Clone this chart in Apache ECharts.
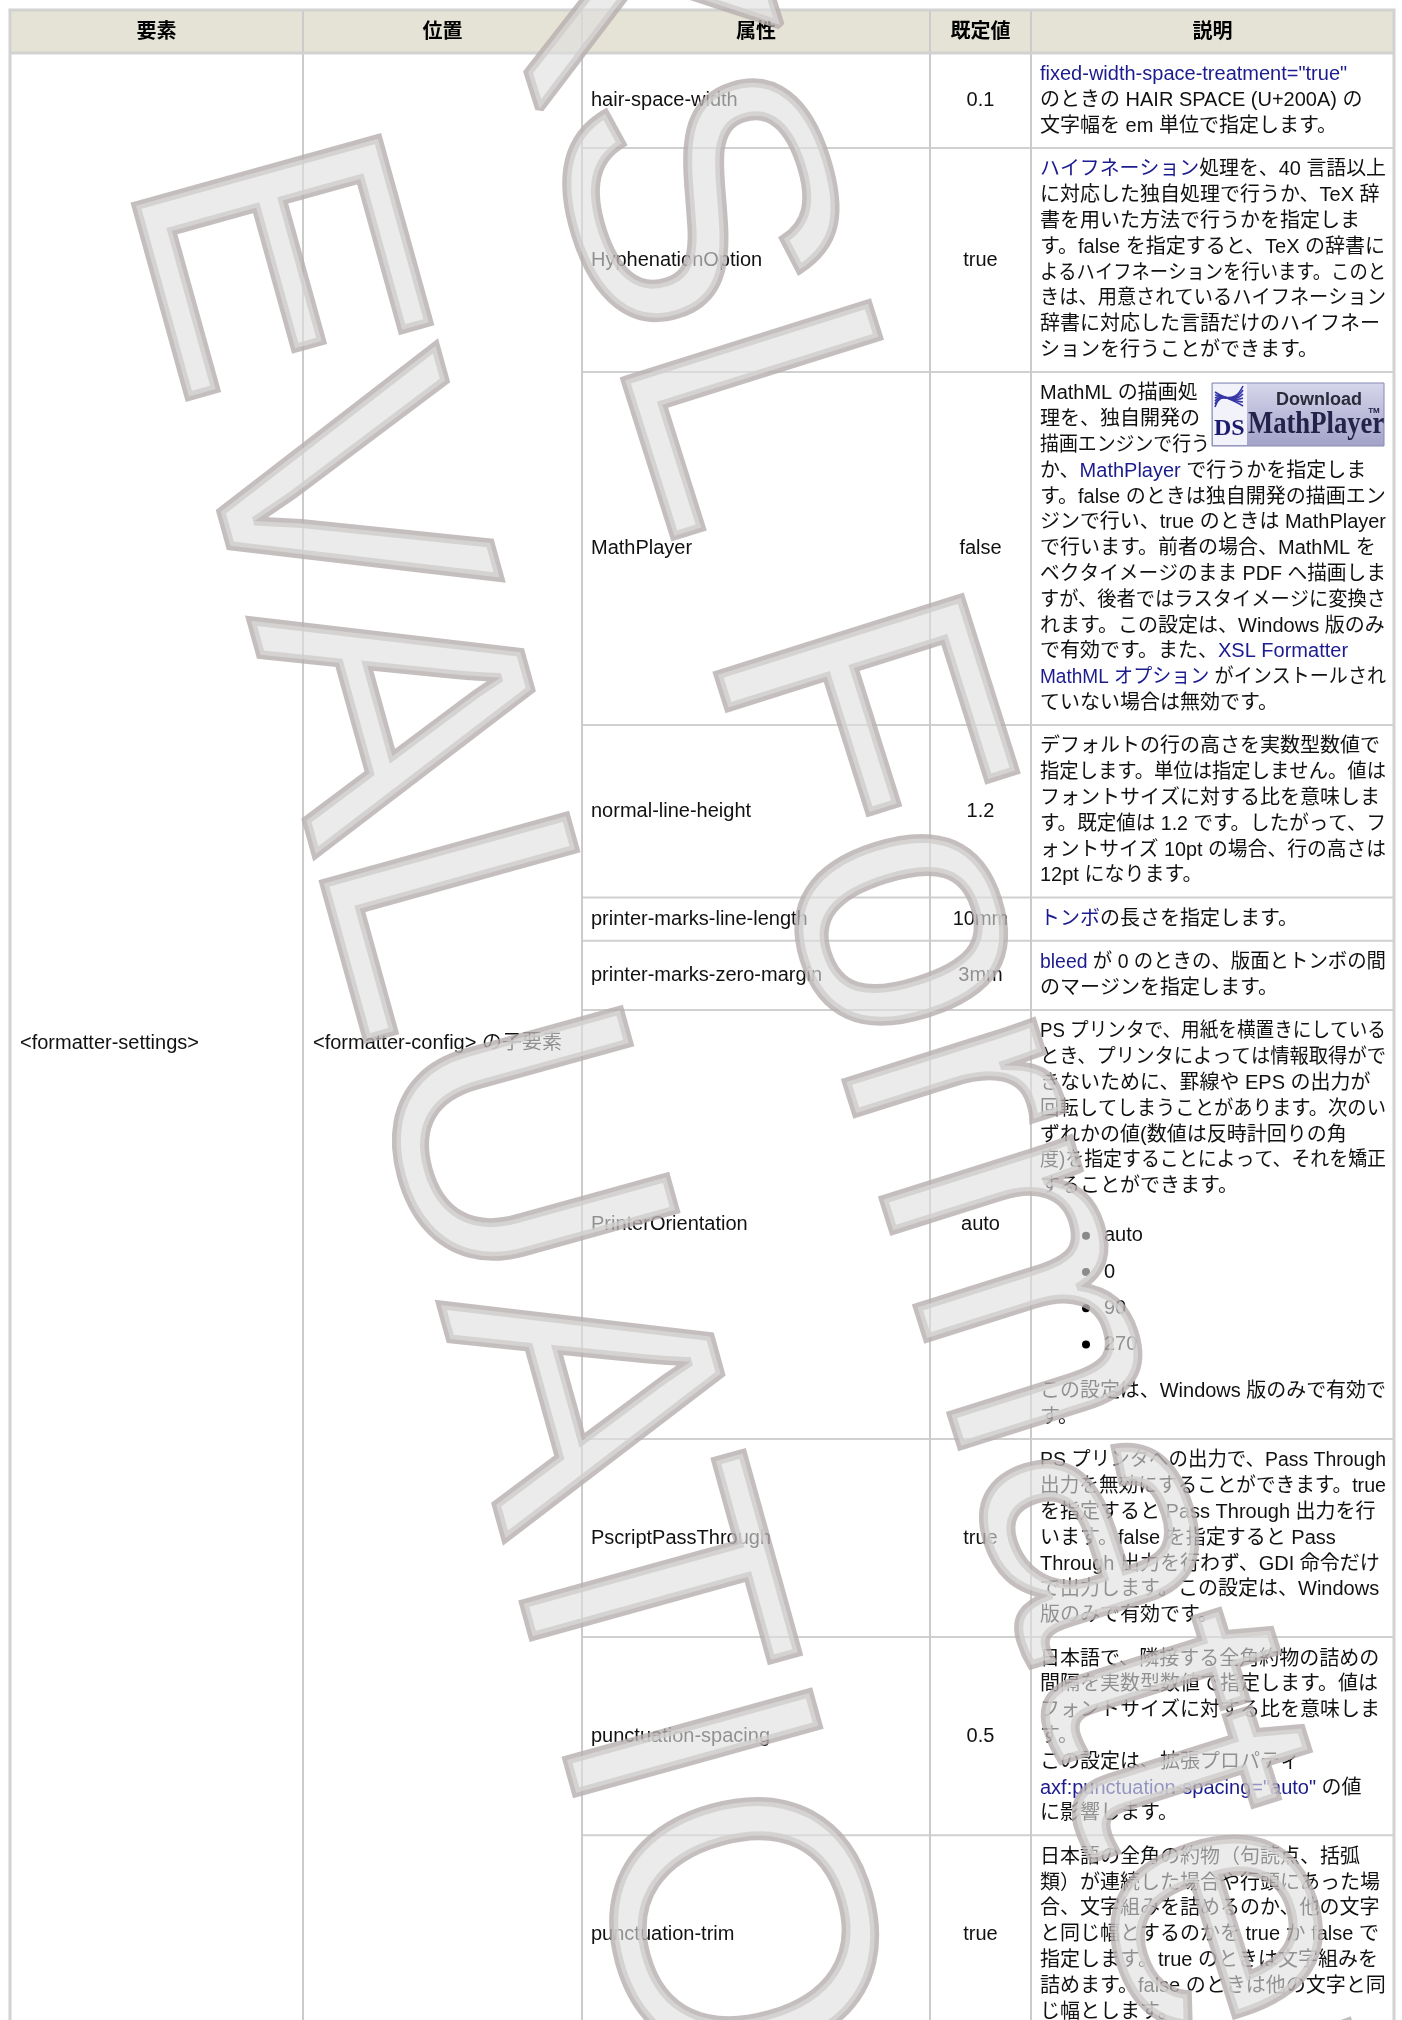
<!DOCTYPE html>
<html><head><meta charset="utf-8">
<script src="https://cdn.jsdelivr.net/npm/echarts@6/dist/echarts.min.js"></script>
<style>html,body{margin:0;padding:0;background:#fff}#c{width:1402px;height:2020px}</style>
</head><body><div id="c"></div>
<script>
// ---------------- data ----------------
const headers = ['要素', '位置', '属性', '既定値', '説明'];
const elementName = '<formatter-settings>';
const elementPlace = '<formatter-config> の子要素';
const attributes = ['hair-space-width', 'HyphenationOption', 'MathPlayer', 'normal-line-height',
  'printer-marks-line-length', 'printer-marks-zero-margin', 'PrinterOrientation',
  'PscriptPassThrough', 'punctuation-spacing', 'punctuation-trim'];
const defaults = ['0.1', 'true', 'false', '1.2', '10mm', '3mm', 'auto', 'true', '0.5', 'true'];
// [..] marks a link; "* " marks a bullet item
const desc0 = ['[fixed-width-space-treatment="true"]', 'のときの HAIR SPACE (U+200A) の', '文字幅を em 単位で指定します。'];
const desc1 = ['[ハイフネーション]処理を、40 言語以上', 'に対応した独自処理で行うか、TeX 辞', '書を用いた方法で行うかを指定しま',
  'す。false を指定すると、TeX の辞書に', 'よるハイフネーションを行います。このと', 'きは、用意されているハイフネーション',
  '辞書に対応した言語だけのハイフネー', 'ションを行うことができます。'];
const desc2 = ['MathML の描画処', '理を、独自開発の', '描画エンジンで行う', 'か、[MathPlayer] で行うかを指定しま',
  'す。false のときは独自開発の描画エン', 'ジンで行い、true のときは MathPlayer', 'で行います。前者の場合、MathML を',
  'ベクタイメージのまま PDF へ描画しま', 'すが、後者ではラスタイメージに変換さ', 'れます。この設定は、Windows 版のみ',
  'で有効です。また、[XSL Formatter]', '[MathML オプション] がインストールされ', 'ていない場合は無効です。'];
const desc3 = ['デフォルトの行の高さを実数型数値で', '指定します。単位は指定しません。値は', 'フォントサイズに対する比を意味しま',
  'す。既定値は 1.2 です。したがって、フ', 'ォントサイズ 10pt の場合、行の高さは', '12pt になります。'];
const desc4 = ['[トンボ]の長さを指定します。'];
const desc5 = ['[bleed] が 0 のときの、版面とトンボの間', 'のマージンを指定します。'];
const desc6 = ['PS プリンタで、用紙を横置きにしている', 'とき、プリンタによっては情報取得がで', 'きないために、罫線や EPS の出力が',
  '回転してしまうことがあります。次のい', 'ずれかの値(数値は反時計回りの角', '度)を指定することによって、それを矯正',
  'することができます。', '* auto', '* 0', '* 90', '* 270', 'この設定は、Windows 版のみで有効で', 'す。'];
const desc7 = ['PS プリンタへの出力で、Pass Through', '出力を無効にすることができます。true', 'を指定すると Pass Through 出力を行',
  'います。false を指定すると Pass', 'Through 出力を行わず、GDI 命令だけ', 'で出力します。この設定は、Windows', '版のみで有効です。'];
const desc8 = ['日本語で、隣接する全角約物の詰めの', '間隔を実数型数値で指定します。値は', 'フォントサイズに対する比を意味しま',
  'す。', 'この設定は、拡張プロパティ', '[axf:punctuation-spacing="auto"] の値', 'に影響します。'];
const desc9 = ['日本語の全角の約物（句読点、括弧', '類）が連続した場合や行頭にあった場', '合、文字組みを詰めるのか、他の文字',
  'と同じ幅とするのかを true か false で', '指定します。true のときは文字組みを', '詰めます。false のときは他の文字と同', 'じ幅とします。'];
const descriptions = [desc0, desc1, desc2, desc3, desc4, desc5, desc6, desc7, desc8, desc9];
const imageRow = 2;            // row carrying the "Download MathPlayer" picture
const imageWrapLines = 3;      // lines that wrap beside the picture
const watermarkLines = ['XSL Formatter', 'EVALUATION'];

// ---------------- layout / style ----------------
const FONT = '20px "Liberation Sans", "Noto Sans CJK JP", sans-serif';
const BOLD = 'bold 20px "Liberation Sans", "Noto Sans CJK JP", sans-serif';
const TXT = '#111';
const LINK = '#1b1b8e';
const colX = [10, 303, 582, 930, 1031, 1394];
const tableTop = 10, headBottom = 53;
const LH = 25.8, padT = 9, padB = 8.6;
const LIST_BEFORE = 49, LIST_PITCH = 36.3, LIST_AFTER = 47;
const descLeft = colX[4] + 9, descRight = colX[5] - 8;
const img = { x: 1212, yOff: 11, w: 172, h: 63 };

const ctx = document.createElement('canvas').getContext('2d');
function measure(s, font) { ctx.font = font; return ctx.measureText(s).width; }

function layoutDesc(lines) {
  let y = padT + LH / 2, prev = null;
  const items = [];
  lines.forEach((ln, i) => {
    const isB = ln.startsWith('* ');
    if (i > 0) {
      if (isB && prev === 'p') y += LIST_BEFORE;
      else if (isB) y += LIST_PITCH;
      else if (prev === 'b') y += LIST_AFTER;
      else y += LH;
    }
    items.push({ y, text: isB ? ln.slice(2) : ln, bullet: isB });
    prev = isB ? 'b' : 'p';
  });
  return { items, height: y + LH / 2 + padB };
}

const els = [];
const layouts = descriptions.map(layoutDesc);
const rowTops = [];
let yy = headBottom;
layouts.forEach(l => { rowTops.push(yy); yy += l.height; });
const tableBottom = yy;

els.push({ type: 'rect', shape: { x: colX[0], y: tableTop, width: colX[5] - colX[0], height: headBottom - tableTop }, style: { fill: '#e5e3d5' }, z: 1 });
rowTops.slice(1).forEach(t => {
  els.push({ type: 'line', shape: { x1: colX[2], y1: t, x2: colX[5], y2: t }, style: { stroke: '#d0d0d0', lineWidth: 2 }, z: 2 });
});
colX.slice(1, 5).forEach(x => {
  els.push({ type: 'line', shape: { x1: x, y1: tableTop, x2: x, y2: tableBottom }, style: { stroke: '#cbcbcb', lineWidth: 2 }, z: 2 });
});
els.push({ type: 'line', shape: { x1: colX[0], y1: headBottom, x2: colX[5], y2: headBottom }, style: { stroke: '#d2d2d2', lineWidth: 3 }, z: 2 });
els.push({ type: 'rect', shape: { x: colX[0], y: tableTop, width: colX[5] - colX[0], height: tableBottom - tableTop }, style: { fill: null, stroke: '#d2d2d2', lineWidth: 3 }, z: 3 });

function textEl(x, y, text, opts) {
  opts = opts || {};
  const st = { text, font: opts.font || FONT, fill: opts.fill || TXT,
    align: opts.align || 'left', textAlign: opts.align || 'left',
    verticalAlign: 'middle', textVerticalAlign: 'middle' };
  if (opts.rich) st.rich = opts.rich;
  const e = { type: 'text', x, y, style: st, z: 5 };
  if (opts.scaleX && opts.scaleX < 1) e.scaleX = opts.scaleX;
  return e;
}

headers.forEach((h, i) => {
  els.push(textEl((colX[i] + colX[i + 1]) / 2, (tableTop + headBottom) / 2 + 1, h, { font: BOLD, align: 'center', fill: '#000' }));
});
const spanMid = (headBottom + tableBottom) / 2;
els.push(textEl(colX[0] + 10, spanMid, elementName));
els.push(textEl(colX[1] + 10, spanMid, elementPlace));

const rich = { l: { fill: LINK, font: FONT }, n: { fill: TXT, font: FONT } };
function toRich(s) {
  return s.split(/(\[[^\]]*\])/).filter(p => p.length).map(p =>
    p[0] === '[' ? '{l|' + p.slice(1, -1) + '}' : '{n|' + p + '}').join('');
}

layouts.forEach((l, r) => {
  const top = rowTops[r], mid = top + l.height / 2;
  els.push(textEl(colX[2] + 9, mid, attributes[r]));
  els.push(textEl((colX[3] + colX[4]) / 2, mid, defaults[r], { align: 'center' }));
  l.items.forEach((it, k) => {
    const plain = it.text.replace(/[\[\]]/g, '');
    let x = descLeft;
    if (it.bullet) {
      els.push({ type: 'circle', shape: { cx: descLeft + 46, cy: top + it.y, r: 4 }, style: { fill: '#000' }, z: 5 });
      x = descLeft + 64;
    }
    let avail = descRight - x;
    if (r === imageRow && k < imageWrapLines) avail = img.x - 2 - x;
    const w = measure(plain, FONT);
    const sc = Math.min(1, avail / w);
    if (/\[/.test(it.text)) els.push(textEl(x, top + it.y, toRich(it.text), { rich, scaleX: sc }));
    else els.push(textEl(x, top + it.y, plain, { scaleX: sc }));
  });
});

// "Download MathPlayer" picture
(function () {
  const x0 = img.x, y0 = rowTops[imageRow] + img.yOff;
  els.push({ type: 'rect', shape: { x: x0, y: y0, width: img.w, height: img.h },
    style: { fill: new echarts.graphic.LinearGradient(0, 0, 0, 1, [{ offset: 0, color: '#d6d6ec' }, { offset: 1, color: '#a2a2c8' }]),
      stroke: '#8a8ab4', lineWidth: 1 }, z: 5 });
  els.push({ type: 'rect', shape: { x: x0 + 1, y: y0 + 1, width: 34, height: img.h - 2 }, style: { fill: '#f2f2fa' }, z: 5 });
  for (let i = 0; i < 6; i++) {
    els.push({ type: 'bezierCurve', shape: { x1: x0 + 3, y1: y0 + 24 - i * 3, cpx1: x0 + 10, cpy1: y0 + 4 + i * 2, cpx2: x0 + 20, cpy2: y0 + 26 - i * 2, x2: x0 + 31, y2: y0 + 3 + i * 4 },
      style: { stroke: '#3636a8', lineWidth: 1.6, fill: null }, z: 6 });
  }
  els.push({ type: 'text', x: x0 + 2, y: y0 + 46, style: { text: 'DS', font: 'bold 24px "Liberation Serif", serif', fill: '#1c1c6e', verticalAlign: 'middle', align: 'left' }, z: 6 });
  els.push({ type: 'text', x: x0 + 107, y: y0 + 17, style: { text: 'Download', font: 'bold 18px "Liberation Sans", sans-serif', fill: '#2a2a3a', verticalAlign: 'middle', align: 'center' }, z: 6 });
  els.push({ type: 'text', x: x0 + 36, y: y0 + 42, scaleX: 0.86, style: { text: 'MathPlayer', font: 'bold 31px "Liberation Serif", serif', fill: '#22224a', verticalAlign: 'middle', align: 'left' }, z: 6 });
  els.push({ type: 'text', x: x0 + 162, y: y0 + 28, style: { text: 'TM', font: 'bold 8px "Liberation Sans", sans-serif', fill: '#22224a', verticalAlign: 'middle', align: 'center' }, z: 6 });
})();

// watermark (outline lettering, rotated)
const wmAngles = [72.5, 74.5];
const wmSizes = [370, 365];
const wmStarts = [[565, -150], [225, 150]];
watermarkLines.forEach((t, i) => {
  els.push({ type: 'text', x: wmStarts[i][0], y: wmStarts[i][1], rotation: -wmAngles[i] * Math.PI / 180, silent: true,
    style: { text: t, font: wmSizes[i] + 'px "Liberation Sans", sans-serif', fill: 'rgba(222,222,222,0.62)', stroke: 'rgba(182,174,174,0.8)', lineWidth: 9,
      align: 'left', verticalAlign: 'middle', textAlign: 'left', textVerticalAlign: 'middle' }, z: 20 });
});

const chart = echarts.init(document.getElementById('c'), null, { renderer: 'canvas' });
chart.setOption({ animation: false, backgroundColor: '#fff', graphic: { elements: els } });
</script></body></html>
